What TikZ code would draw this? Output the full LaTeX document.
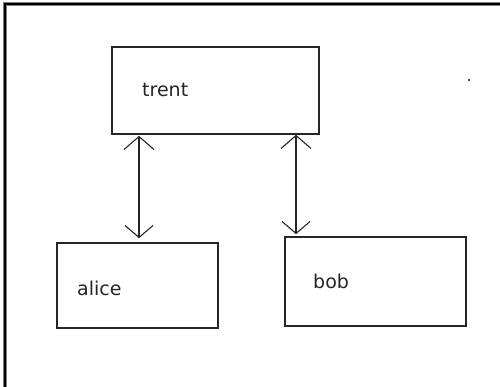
\documentclass[tikz,border=0pt]{standalone}
\usepackage{fontspec}
\setmainfont{DejaVu Sans}
\usetikzlibrary{arrows.meta}
\begin{document}
\begin{tikzpicture}[x=1pt,y=-1pt,
  box/.style={draw=black!85,line width=1.6pt,rectangle,inner sep=0pt,fill=white},
  boxtext/.style={anchor=base west,inner sep=0pt,text=black!85,font=\fontsize{19}{23}\selectfont},
  link/.style={draw=black!85,line width=1.2pt,
    {Straight Barb[length=13pt,width=30pt,line width=1.1pt]}-{Straight Barb[length=12pt,width=28pt,line width=1.1pt]}}
]
\useasboundingbox[fill=white] (0,0) rectangle (500,387);
% window frame: left and top edges only
\draw[gray,line width=3.2pt] (5,387) -- (5,4) -- (500,4);
\draw[black,line width=1.4pt] (5,387) -- (5,4) -- (500,4);
% stray dot
\fill[black!70] (468,79) rectangle (470,81);

% boxes
\node[box,minimum width=207pt,minimum height=87pt] (trent) at (215.5,90.5) {};
\node[box,minimum width=161pt,minimum height=85pt] (alice) at (137.5,285.5) {};
\node[box,minimum width=181pt,minimum height=89pt] (bob)   at (375.5,281.5) {};

% labels
\node[boxtext] (trentlbl) at (142,97) {trent};
\node[boxtext] (alicelbl) at (77,295) {alice};
\node[boxtext] (boblbl)   at (313,288) {bob};

% connectors
\coordinate (lx) at (139,0);
\coordinate (rx) at (296,0);
\draw[link,shorten <=1pt,shorten >=4pt] (trent.south -| lx) -- (alice.north -| lx);
\draw[link,shorten >=2pt] (trent.south -| rx) -- (bob.north -| rx);
\end{tikzpicture}
\end{document}
